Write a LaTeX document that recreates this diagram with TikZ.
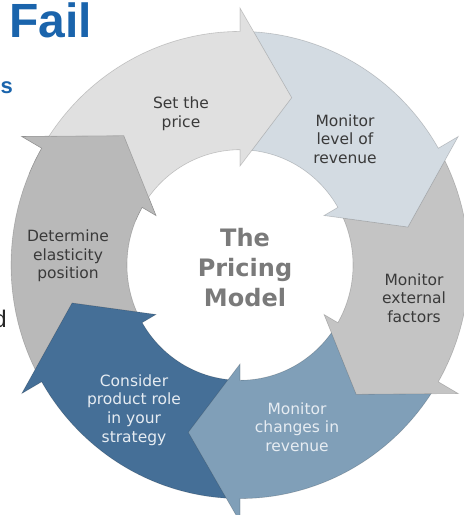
\documentclass[tikz,border=0pt]{standalone}
\usepackage{fontspec}
\setmainfont{DejaVu Sans}
\newfontfamily\headfont{Liberation Sans}

\definecolor{segsetprice}{HTML}{E0E0E0}
\definecolor{seglevel}{HTML}{D3DBE2}
\definecolor{segexternal}{HTML}{C4C4C4}
\definecolor{segchanges}{HTML}{809FB8}
\definecolor{segconsider}{HTML}{456F97}
\definecolor{segelastic}{HTML}{B9B9B9}
\definecolor{labeldark}{HTML}{3A3A3A}
\definecolor{labellight}{HTML}{E6ECF2}
\definecolor{centergray}{HTML}{7A7A7A}
\definecolor{titleblue}{HTML}{1A64AC}

% one curved block arrow of the cycle:
% #1 tail angle, #2 angle of the head's back edge, #3 fill colour
\newcommand\ringseg[3]{%
  \pgfmathsetmacro\tipang{#2-17.5}%
  \filldraw[segedge, fill=#3]
    (#1:229) arc[start angle=#1, end angle=#2, radius=229]
    -- (#2:252) -- (\tipang:172) -- (#2:97) -- (#2:113)
    arc[start angle=#2, end angle=#1, radius=113] -- cycle;
}

\begin{document}
\begin{tikzpicture}[x=1pt,y=-1pt,
  segedge/.style={draw=black, draw opacity=0.18, line width=0.6pt},
  seglabel/.style={align=center, inner sep=0pt,
    font=\fontsize{15.5}{18.7}\selectfont},
  darklabel/.style={seglabel, text=labeldark},
  lightlabel/.style={seglabel, text=labellight}]
\useasboundingbox (0,0) rectangle (464,515);
\clip (0,0) rectangle (464,515);

% the ring of six arrows, each head lying over the tail of the next
\begin{scope}[shift={(240pt,-265pt)}, x=1pt, y=1pt, yscale=1.02]
  \ringseg{207}{150}{segelastic}
  \ringseg{-93}{-150}{segconsider}
  \ringseg{-33}{-90}{segchanges}
  \ringseg{27}{-30}{segexternal}
  \ringseg{87}{30}{seglevel}
  \ringseg{147}{90}{segsetprice}
  % the head of the last arrow closes the cycle over the first one
  \begin{scope}
    \clip (0,0) -- (157:300) arc[start angle=157, end angle=124, radius=300] -- cycle;
    \ringseg{207}{150}{segelastic}
  \end{scope}
\end{scope}

% step labels
\node[darklabel] (setprice) at (181,114) {Set the\\price};
\node[darklabel] (level) at (345,139) {Monitor\\level of\\revenue};
\node[darklabel] (external) at (414,298) {Monitor\\external\\factors};
\node[lightlabel] (changes) at (297,427) {Monitor\\changes in\\revenue};
\node[lightlabel] (consider) at (134,410) {Consider\\product role\\in your\\strategy};
\node[darklabel] (elastic) at (68,256) {Determine\\elasticity\\position};

% centre title
\node[align=center, inner sep=0pt, text=centergray,
  font=\bfseries\fontsize{24}{30}\selectfont] (model) at (245,268)
  {The\\Pricing\\Model};

% slide text around the picture
\node[anchor=base west, inner sep=0pt, text=titleblue,
  font=\headfont\bfseries\fontsize{48}{48}\selectfont] (fail) at (9,37) {Fail};
\node[anchor=base east, inner sep=0pt, text=titleblue,
  font=\headfont\bfseries\fontsize{22}{22}\selectfont] (tails) at (13,93) {s};
\node[anchor=base east, inner sep=0pt, text=black!85,
  font=\headfont\fontsize{24}{24}\selectfont] (taild) at (7,327) {d};
\end{tikzpicture}
\end{document}
